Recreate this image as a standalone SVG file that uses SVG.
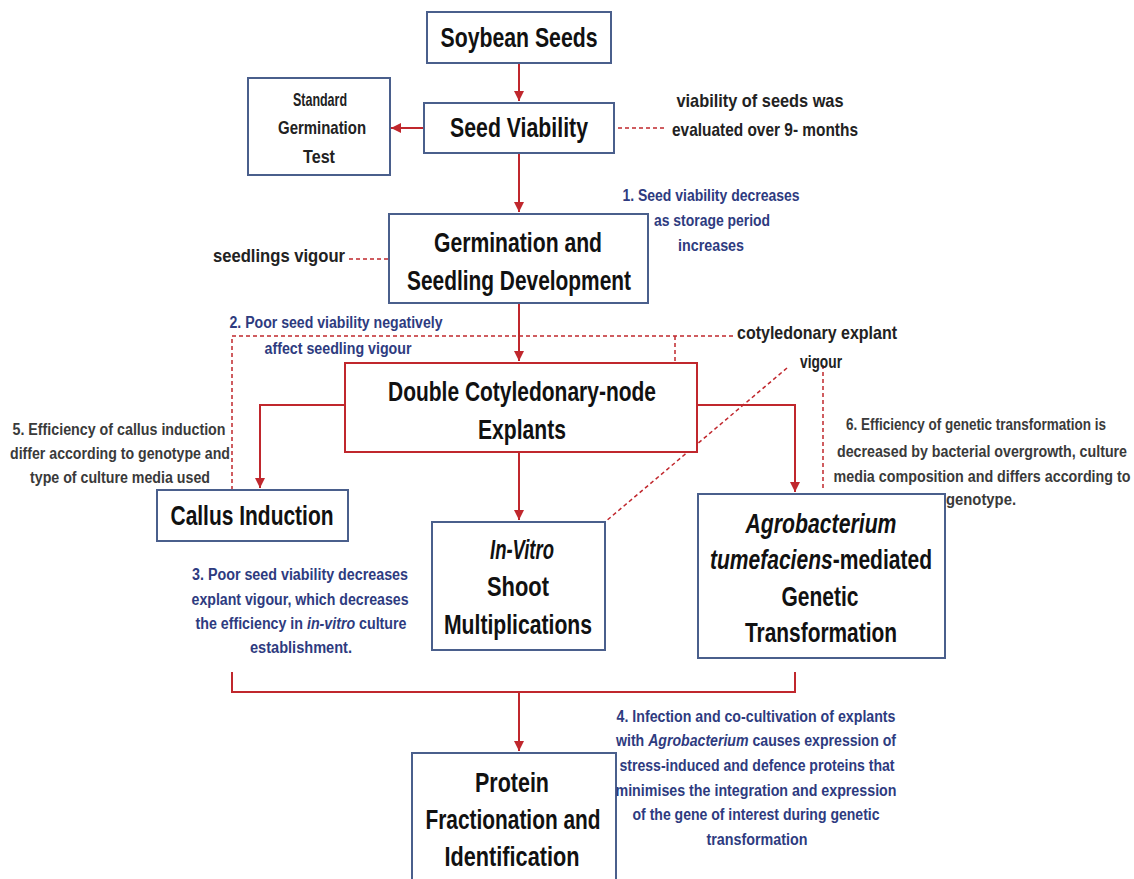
<svg xmlns="http://www.w3.org/2000/svg" width="1134" height="879" viewBox="0 0 1134 879">
<style>
.box{fill:#fff;stroke:#4a5f8c;stroke-width:2}
.rbox{fill:#fff;stroke:#c0272d;stroke-width:2}
text{font-family:"Liberation Sans",Arial,sans-serif;font-weight:bold;text-anchor:middle;fill:#111}
.big{font-size:27px}
.ann{font-size:18px;fill:#222}
.blue{font-size:16px;fill:#2e3b80}
.gray{font-size:16px;fill:#3a3a3a}
.conn{stroke:#c0272d;stroke-width:2;fill:none}
.dash{stroke:#c0272d;stroke-width:1.5;stroke-dasharray:4 3;fill:none}
</style>
<defs>
<marker id="ah" markerUnits="userSpaceOnUse" markerWidth="10" markerHeight="10" refX="10" refY="5" orient="auto">
<path d="M0,0 L10,5 L0,10 z" fill="#c0272d"/>
</marker>
</defs>
<rect width="1134" height="879" fill="#fff"/>
<g id="connectors">
<path class="conn" d="M519 63 V101" marker-end="url(#ah)"/>
<path class="conn" d="M424 128 H391" marker-end="url(#ah)"/>
<path class="conn" d="M519 153 V212" marker-end="url(#ah)"/>
<path class="conn" d="M519 303 V361" marker-end="url(#ah)"/>
<path class="conn" d="M345 405 H260 V488" marker-end="url(#ah)"/>
<path class="conn" d="M697 405 H795 V492" marker-end="url(#ah)"/>
<path class="conn" d="M519 452 V520" marker-end="url(#ah)"/>
<path class="conn" d="M232 672 V692 H795 V672"/>
<path class="conn" d="M519 692 V751" marker-end="url(#ah)"/>
<path class="dash" d="M618 128 H666"/>
<path class="dash" d="M349 259 H389"/>
<path class="dash" d="M232 490 V336 H735"/>
<path class="dash" d="M675 336 V363"/>
<path class="dash" d="M787 368 L605 522"/>
<path class="dash" d="M823 365 V490"/>
</g>
<g id="soybean"><rect class="box" x="427" y="12" width="184" height="51"/><text class="big" transform="translate(519 47) scale(0.82 1)" textLength="191.5" lengthAdjust="spacingAndGlyphs">Soybean Seeds</text></g>
<g id="viability"><rect class="box" x="424" y="103" width="190" height="50"/><text class="big" transform="translate(519 137) scale(0.82 1)" textLength="168.3" lengthAdjust="spacingAndGlyphs">Seed Viability</text></g>
<g id="standard"><rect class="box" x="248" y="78" width="142" height="97"/>
<text class="ann" transform="translate(320 106) scale(0.82 1)" textLength="65.9" lengthAdjust="spacingAndGlyphs">Standard</text>
<text class="ann" transform="translate(322 134) scale(0.82 1)" textLength="107.3" lengthAdjust="spacingAndGlyphs">Germination</text>
<text class="ann" transform="translate(319 163) scale(0.82 1)" textLength="39" lengthAdjust="spacingAndGlyphs">Test</text></g>
<g id="note-viability">
<text class="ann" transform="translate(760 107) scale(0.82 1)" textLength="203.7" lengthAdjust="spacingAndGlyphs">viability of seeds was</text>
<text class="ann" transform="translate(765 136) scale(0.82 1)" textLength="226.8" lengthAdjust="spacingAndGlyphs">evaluated over 9- months</text></g>
<g id="germination"><rect class="box" x="389" y="214" width="259" height="89"/>
<text class="big" transform="translate(518 252) scale(0.82 1)" textLength="204.9" lengthAdjust="spacingAndGlyphs">Germination and</text>
<text class="big" transform="translate(519 290) scale(0.82 1)" textLength="273.2" lengthAdjust="spacingAndGlyphs">Seedling Development</text></g>
<g id="note-seedlings"><text class="ann" transform="translate(279 262) scale(0.82 1)" textLength="161" lengthAdjust="spacingAndGlyphs">seedlings vigour</text></g>
<g id="note1">
<text class="blue" transform="translate(711 201) scale(0.82 1)" textLength="215.9" lengthAdjust="spacingAndGlyphs">1. Seed viability decreases</text>
<text class="blue" transform="translate(712 226) scale(0.82 1)" textLength="141.5" lengthAdjust="spacingAndGlyphs">as storage period</text>
<text class="blue" transform="translate(711 251) scale(0.82 1)" textLength="80.5" lengthAdjust="spacingAndGlyphs">increases</text></g>
<g id="note2">
<text class="blue" transform="translate(336 328) scale(0.82 1)" textLength="259.8" lengthAdjust="spacingAndGlyphs">2. Poor seed viability negatively</text>
<text class="blue" transform="translate(338 354) scale(0.82 1)" textLength="179.3" lengthAdjust="spacingAndGlyphs">affect seedling vigour</text></g>
<g id="note-cot">
<text class="ann" transform="translate(817 339) scale(0.82 1)" textLength="195.1" lengthAdjust="spacingAndGlyphs">cotyledonary explant</text>
<text class="ann" transform="translate(821 368) scale(0.82 1)" textLength="51.2" lengthAdjust="spacingAndGlyphs">vigour</text></g>
<g id="double"><rect class="rbox" x="345" y="363" width="352" height="89"/>
<text class="big" transform="translate(522 401) scale(0.82 1)" textLength="326.8" lengthAdjust="spacingAndGlyphs">Double Cotyledonary-node</text>
<text class="big" transform="translate(522 439) scale(0.82 1)" textLength="107.3" lengthAdjust="spacingAndGlyphs">Explants</text></g>
<g id="note5">
<text class="gray" transform="translate(119 435) scale(0.82 1)" textLength="259.8" lengthAdjust="spacingAndGlyphs">5. Efficiency of callus induction</text>
<text class="gray" transform="translate(120 459) scale(0.82 1)" textLength="268.3" lengthAdjust="spacingAndGlyphs">differ according to genotype and</text>
<text class="gray" transform="translate(120 483) scale(0.82 1)" textLength="219.5" lengthAdjust="spacingAndGlyphs">type of culture media used</text></g>
<g id="callus"><rect class="box" x="157" y="490" width="191" height="51"/><text class="big" transform="translate(252 525) scale(0.82 1)" textLength="198.8" lengthAdjust="spacingAndGlyphs">Callus Induction</text></g>
<g id="invitro"><rect class="box" x="432" y="522" width="173" height="128"/>
<text class="big" font-style="italic" transform="translate(522 559) scale(0.82 1)" textLength="78" lengthAdjust="spacingAndGlyphs">In-Vitro</text>
<text class="big" transform="translate(518 596) scale(0.82 1)" textLength="75.6" lengthAdjust="spacingAndGlyphs">Shoot</text>
<text class="big" transform="translate(518 634) scale(0.82 1)" textLength="180.5" lengthAdjust="spacingAndGlyphs">Multiplications</text></g>
<g id="agro"><rect class="box" x="698" y="494" width="247" height="164"/>
<text class="big" font-style="italic" transform="translate(821 533) scale(0.82 1)" textLength="184.1" lengthAdjust="spacingAndGlyphs">Agrobacterium</text>
<text class="big" transform="translate(821 569) scale(0.82 1)" textLength="270.7" lengthAdjust="spacingAndGlyphs"><tspan font-style="italic">tumefaciens</tspan>-mediated</text>
<text class="big" transform="translate(820 606) scale(0.82 1)" textLength="93.9" lengthAdjust="spacingAndGlyphs">Genetic</text>
<text class="big" transform="translate(821 642) scale(0.82 1)" textLength="185.4" lengthAdjust="spacingAndGlyphs">Transformation</text></g>
<g id="note6">
<text class="gray" transform="translate(976 430) scale(0.82 1)" textLength="317.1" lengthAdjust="spacingAndGlyphs">6. Efficiency of genetic transformation is</text>
<text class="gray" transform="translate(982 457) scale(0.82 1)" textLength="353.7" lengthAdjust="spacingAndGlyphs">decreased by bacterial overgrowth, culture</text>
<text class="gray" transform="translate(982 482) scale(0.82 1)" textLength="362.2" lengthAdjust="spacingAndGlyphs">media composition and differs according to</text>
<text class="gray" transform="translate(981 505) scale(0.82 1)" textLength="85.4" lengthAdjust="spacingAndGlyphs">genotype.</text></g>
<g id="note3">
<text class="blue" transform="translate(300 580) scale(0.82 1)" textLength="263.4" lengthAdjust="spacingAndGlyphs">3. Poor seed viability decreases</text>
<text class="blue" transform="translate(300 605) scale(0.82 1)" textLength="264.6" lengthAdjust="spacingAndGlyphs">explant vigour, which decreases</text>
<text class="blue" transform="translate(301 629) scale(0.82 1)" textLength="257.3" lengthAdjust="spacingAndGlyphs">the efficiency in <tspan font-style="italic">in-vitro</tspan> culture</text>
<text class="blue" transform="translate(301 653) scale(0.82 1)" textLength="124.4" lengthAdjust="spacingAndGlyphs">establishment.</text></g>
<g id="protein"><rect class="box" x="412" y="753" width="204" height="140"/>
<text class="big" transform="translate(512 792) scale(0.82 1)" textLength="90.2" lengthAdjust="spacingAndGlyphs">Protein</text>
<text class="big" transform="translate(513 829) scale(0.82 1)" textLength="213.4" lengthAdjust="spacingAndGlyphs">Fractionation and</text>
<text class="big" transform="translate(512 866) scale(0.82 1)" textLength="164.6" lengthAdjust="spacingAndGlyphs">Identification</text></g>
<g id="note4">
<text class="blue" transform="translate(756 722) scale(0.82 1)" textLength="340.2" lengthAdjust="spacingAndGlyphs">4. Infection and co-cultivation of explants</text>
<text class="blue" transform="translate(756 746) scale(0.82 1)" textLength="341.5" lengthAdjust="spacingAndGlyphs">with <tspan font-style="italic">Agrobacterium</tspan> causes expression of</text>
<text class="blue" transform="translate(757 771) scale(0.82 1)" textLength="335.4" lengthAdjust="spacingAndGlyphs">stress-induced and defence proteins that</text>
<text class="blue" transform="translate(756 796) scale(0.82 1)" textLength="342.7" lengthAdjust="spacingAndGlyphs">minimises the integration and expression</text>
<text class="blue" transform="translate(756 820) scale(0.82 1)" textLength="301.2" lengthAdjust="spacingAndGlyphs">of the gene of interest during genetic</text>
<text class="blue" transform="translate(757 845) scale(0.82 1)" textLength="123.2" lengthAdjust="spacingAndGlyphs">transformation</text></g>
</svg>
